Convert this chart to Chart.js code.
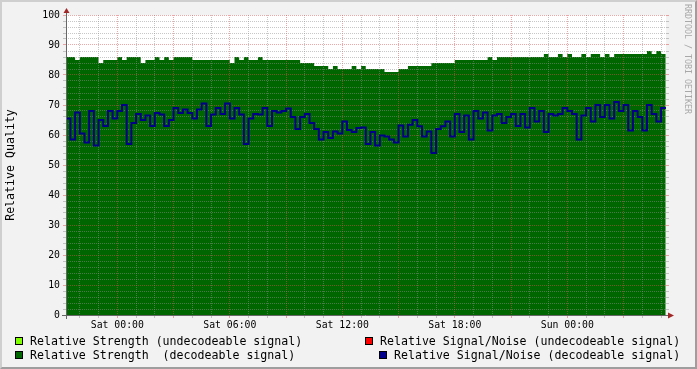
<!DOCTYPE html>
<html>
<head>
<meta charset="utf-8">
<script src="https://cdn.jsdelivr.net/npm/chart.js@4/dist/chart.umd.min.js"></script>
<style>
html,body{margin:0;padding:0;background:#f2f2f2;}
#wrap{position:relative;width:697px;height:369px;overflow:hidden;font-family:'DejaVu Sans Mono',monospace;}
#c{position:absolute;left:0;top:0;}
.frame{position:absolute;left:0;top:0;width:697px;height:369px;box-sizing:border-box;border-top:2px solid #cfcfcf;border-left:2px solid #cfcfcf;border-right:2px solid #9e9e9e;border-bottom:2px solid #9e9e9e;pointer-events:none;}
.lg{position:absolute;font-size:11.6px;line-height:14px;color:#000;white-space:pre;}
.box{position:absolute;width:8px;height:8px;box-sizing:border-box;border:1px solid #000;}
.wm{position:absolute;left:683px;top:4px;writing-mode:vertical-rl;font-size:8.3px;line-height:10px;color:#a8a8a8;white-space:pre;}
</style>
</head>
<body>
<div id="wrap">
<canvas id="c" width="697" height="369"></canvas>
<div class="box" style="left:15px;top:337px;background:#7fff00;"></div>
<div class="lg" style="left:30px;top:334px;">Relative Strength (undecodeable signal)</div>
<div class="box" style="left:15px;top:351px;background:#006600;"></div>
<div class="lg" style="left:30px;top:348px;">Relative Strength  (decodeable signal)</div>
<div class="box" style="left:365px;top:337px;background:#ff0000;"></div>
<div class="lg" style="left:380px;top:334px;">Relative Signal/Noise (undecodeable signal)</div>
<div class="box" style="left:379px;top:351px;background:#00008b;"></div>
<div class="lg" style="left:394px;top:348px;">Relative Signal/Noise (decodeable signal)</div>
<div class="wm">RRDTOOL / TOBI OETIKER</div>
<div class="frame"></div>
</div>
<script>
// time axis in hours relative to Sat 00:00
const startHour = -2.75;
const stepHours = 0.25;
const xMin = -2.736;
const xMax = 29.264;

// Relative Strength (decodeable signal)
const strength = [
  86,86,85,86,86,86,86,84,85,85,
  85,86,85,86,86,86,84,85,85,86,
  85,86,85,86,86,86,86,85,85,85,
  85,85,85,85,85,84,86,85,86,85,
  85,86,85,85,85,85,85,85,85,85,
  84,84,84,83,83,83,82,83,82,82,
  82,83,82,83,82,82,82,82,81,81,
  81,82,82,83,83,83,83,83,84,84,
  84,84,84,85,85,85,85,85,85,85,
  86,85,86,86,86,86,86,86,86,86,
  86,86,87,86,86,87,86,87,86,86,
  87,86,87,87,86,87,86,87,87,87,
  87,87,87,87,88,87,88,87,87
];

// Relative Signal/Noise (decodeable signal)
const snr = [
  65.5,58.5,67.5,60.5,57.5,68,56.5,65,63,68,
  65.5,68,70,57,64,67,65,66.5,63,67.3,
  66.8,63,65,69,67.3,68.5,67.3,65.5,68.5,70.5,
  63,66.8,69,67,70.5,65.5,69,66.8,57,65.5,
  67,66.8,69,63,68,67.5,68,68.8,66,62,
  66,67,64,62,58.5,61,59,61.2,60.5,64.5,
  61.7,61,62.3,62.5,57,61,56.5,59.8,59.5,58.5,
  57.5,63.2,59.5,63.4,65,62.9,59.5,61.2,54,62,
  62.9,64.5,59.5,67,61,66.5,58.5,68,65.5,67.5,
  61.5,66.5,67,64,66,67,63,67,62.5,69,
  64.5,68,61,67,66.5,67,69,68,67,58.5,
  66.5,69,64.5,70,66,70,65.5,71,68,70,
  61.5,68,66,61.5,70,67,64.5,69,69
];

const tickHours = [0, 6, 12, 18, 24];
const tickLabels = ['Sat 00:00', 'Sat 06:00', 'Sat 12:00', 'Sat 18:00', 'Sun 00:00'];
const yLabelValues = [0, 10, 20, 30, 40, 50, 60, 70, 80, 90, 100];

const GRID = 'rgba(143,143,143,0.5)';
const MGRID = 'rgba(222,79,79,0.5)';

const toPoints = arr => arr.map((v, i) => ({x: startHour + i * stepHours, y: v}));
const hourTicks = [];
for (let h = Math.ceil(xMin); h <= Math.floor(xMax); h++) hourTicks.push({value: h});
const yTicks = [];
for (let v = 0; v <= 100; v += 2) yTicks.push({value: v});

Chart.defaults.font.family = "'DejaVu Sans Mono', monospace";

const bgPlugin = {
  id: 'canvasBg',
  beforeDraw(chart) {
    const {ctx, chartArea: a} = chart;
    ctx.save();
    ctx.fillStyle = '#ffffff';
    ctx.fillRect(a.left, a.top, a.right - a.left, a.bottom - a.top);
    ctx.restore();
  }
};

const overlayPlugin = {
  id: 'overlay',
  afterDraw(chart) {
    const {ctx, chartArea: a} = chart;
    ctx.save();
    ctx.beginPath();
    ctx.rect(a.left, a.top, a.right - a.left, a.bottom - a.top);
    ctx.clip();
    chart.getDatasetMeta(1).controller.draw();
    ctx.restore();

    ctx.save();
    ctx.strokeStyle = '#666666';
    ctx.lineWidth = 1;
    ctx.beginPath();
    ctx.moveTo(a.left - 4, a.bottom + 0.5);
    ctx.lineTo(a.right + 3, a.bottom + 0.5);
    ctx.moveTo(a.left + 0.5, a.bottom + 4);
    ctx.lineTo(a.left + 0.5, a.top - 2);
    ctx.stroke();
    ctx.fillStyle = '#a02828';
    ctx.beginPath();
    ctx.moveTo(a.right + 8, a.bottom + 0.5);
    ctx.lineTo(a.right + 2, a.bottom - 2.5);
    ctx.lineTo(a.right + 2, a.bottom + 3.5);
    ctx.closePath();
    ctx.fill();
    ctx.beginPath();
    ctx.moveTo(a.left + 0.5, a.top - 7);
    ctx.lineTo(a.left - 2.5, a.top - 2);
    ctx.lineTo(a.left + 3.5, a.top - 2);
    ctx.closePath();
    ctx.fill();
    ctx.restore();
  }
};

new Chart(document.getElementById('c'), {
  type: 'line',
  data: {
    datasets: [
      {
        label: 'Relative Strength  (decodeable signal)',
        data: toPoints(strength),
        stepped: true,
        fill: 'origin',
        backgroundColor: '#006600',
        borderColor: 'rgba(0,0,0,0)',
        borderWidth: 0,
        pointRadius: 0
      },
      {
        label: 'Relative Signal/Noise (decodeable signal)',
        data: toPoints(snr),
        stepped: true,
        fill: false,
        borderColor: '#000088',
        borderWidth: 2,
        pointRadius: 0
      }
    ]
  },
  options: {
    responsive: false,
    animation: false,
    events: [],
    layout: {padding: {left: 0, top: 15, right: 28, bottom: 34}},
    plugins: {legend: {display: false}, tooltip: {enabled: false}},
    scales: {
      x: {
        type: 'linear',
        min: xMin,
        max: xMax,
        afterBuildTicks: s => { s.ticks = hourTicks.map(t => ({value: t.value})); },
        afterFit: s => { s.height = 20; },
        ticks: {
          autoSkip: false,
          maxRotation: 0,
          padding: 2,
          color: '#000',
          font: {size: 9.8},
          callback: v => { const k = tickHours.indexOf(v); return k >= 0 ? tickLabels[k] : ''; }
        },
        grid: {
          z: 1,
          color: c => (c.tick && c.tick.value % 3 === 0) ? MGRID : GRID,
          lineWidth: 1,
          tickLength: 3
        },
        border: {display: false, dash: [1, 1]}
      },
      y: {
        type: 'linear',
        position: 'left',
        min: 0,
        max: 100,
        afterBuildTicks: s => { s.ticks = yTicks.map(t => ({value: t.value})); },
        afterFit: s => { s.width = 66; },
        ticks: {
          autoSkip: false,
          padding: 3,
          color: '#000',
          font: {size: 9.8},
          callback: v => yLabelValues.includes(v) ? String(v) : ''
        },
        grid: {
          z: 1,
          color: c => (c.tick && c.tick.value % 10 === 0) ? MGRID : GRID,
          lineWidth: 1,
          tickLength: 3
        },
        border: {display: false, dash: [1, 1]},
        title: {display: true, text: 'Relative Quality', color: '#000', font: {size: 11.6}, padding: {top: 4, bottom: 0}}
      },
      y2: {
        type: 'linear',
        position: 'right',
        min: 0,
        max: 100,
        afterBuildTicks: s => { s.ticks = yTicks.map(t => ({value: t.value})); },
        afterFit: s => { s.width = 3; },
        ticks: {display: false},
        grid: {
          drawOnChartArea: false,
          color: c => (c.tick && c.tick.value % 10 === 0) ? MGRID : GRID,
          tickLength: 3
        },
        border: {display: false}
      }
    }
  },
  plugins: [bgPlugin, overlayPlugin]
});
</script>
</body>
</html>
